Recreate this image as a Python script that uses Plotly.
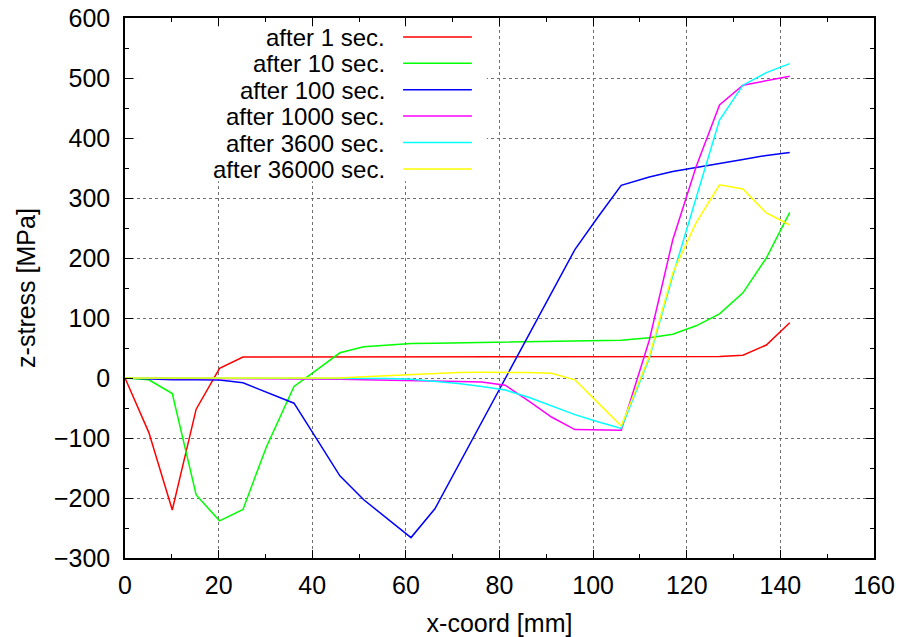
import plotly.graph_objects as go

# Node x-coordinates along the section [mm]
x_mm = [0, 5.1, 10.1, 15.2, 20.2, 25.2, 30.2, 36.1, 40.9, 45.9, 51, 56, 61.1, 66.2,
        71.2, 76.2, 81.2, 86.2, 91.1, 96.1, 101, 106, 112, 117, 122, 127, 132, 137, 142]

# z-stress [MPa] at each node for the different times
s_1 = [0, -91, -220, -52, 16, 35, 35, 35, 35, 35, 35, 35, 35, 35,
       35, 35, 35, 35, 35, 35, 35, 35, 35, 35, 35.5, 36, 38, 55, 92]
s_10 = [0, -3, -26, -195, -238, -219, -115, -14, 13, 42, 52, 55, 57.5, 58,
        58.5, 59, 59.5, 60, 60.5, 61, 62, 63, 67, 73, 87, 107, 142, 200, 276]
s_100 = [0, -2, -3, -3, -3.5, -8, -24, -42, -101, -163, -203, -234, -266, -218,
         -146, -74, -2, 71, 143, 214, 268, 321, 335, 344, 351, 357, 364, 371, 376]
s_1000 = [0, -1, -1, -1, -1, -1, -1, -1, -1, -2, -3, -4, -5, -5.5,
          -6, -6.5, -12, -38, -65, -86, -86, -87, 63, 230, 352, 455, 488, 496, 503]
s_3600 = [0, 0, 0, 0, 0, -0.5, -0.5, -0.5, -1, -1, -1, -1, -2, -5,
          -9, -14, -20, -32, -46, -61, -73, -84, 33, 170, 300, 430, 488, 509, 524]
s_36000 = [0, 0, 0, 0, 0, 0, 0, 0, 0, 0, 2, 4, 6, 8,
           9, 9.5, 9.5, 9, 8, -3, -41, -80, 36, 175, 259, 322, 315, 275, 255]

series_names = ["after 1 sec.", "after 10 sec.", "after 100 sec.",
                "after 1000 sec.", "after 3600 sec.", "after 36000 sec."]
series_values = [s_1, s_10, s_100, s_1000, s_3600, s_36000]
series_colors = ["#ff0000", "#00ff00", "#0000ff", "#ff00ff", "#00ffff", "#ffff00"]

FONT = "Liberation Sans, Arial, sans-serif"
FS = 25
KEY_FS = 24

fig = go.Figure()
for name, vals, col in zip(series_names, series_values, series_colors):
    fig.add_trace(go.Scatter(x=x_mm, y=vals, mode="lines", name=name,
                             line=dict(color=col, width=1.5), showlegend=False))

axis_common = dict(
    showline=True, linecolor="black", linewidth=1.5, mirror="allticks",
    ticks="inside", ticklen=8, tickwidth=1.2, tickcolor="black",
    showgrid=True, gridcolor="#707070", griddash="dot", gridwidth=1,
    zeroline=False, automargin=False,
    tickfont=dict(family=FONT, size=FS, color="black"),
)

fig.update_xaxes(range=[0, 160], dtick=20, tick0=0, ticklabelstandoff=4,
                 minor=dict(dtick=10, ticks="inside", ticklen=4, tickcolor="black", tickwidth=1.2, showgrid=False),
                 title=dict(text="x-coord [mm]", font=dict(family=FONT, size=FS, color="black"), standoff=21),
                 **axis_common)
fig.update_yaxes(range=[-300, 600], dtick=100, tick0=0, ticklabelstandoff=8,
                 minor=dict(dtick=50, ticks="inside", ticklen=4, tickcolor="black", tickwidth=1.2, showgrid=False),
                 title=dict(text="z-stress [MPa]", font=dict(family=FONT, size=FS, color="black"), standoff=11),
                 **axis_common)

# Key: white box over the grid, labels right-aligned with line samples to their right
key_box = dict(x0=2.6, x1=77.3, y0=328, y1=586)
fig.add_shape(type="rect", xref="x", yref="y", layer="above",
              fillcolor="white", line=dict(width=0), **key_box)
key_top = 568.5
key_step = 44.0
for i, (name, col) in enumerate(zip(series_names, series_colors)):
    yk = key_top - i * key_step
    fig.add_annotation(x=55.9, y=yk, xref="x", yref="y", text=name, showarrow=False,
                       xanchor="right", yanchor="middle", height=24, valign="middle",
                       font=dict(family=FONT, size=KEY_FS, color="black"))
    fig.add_shape(type="line", xref="x", yref="y", x0=59.4, x1=74.1, y0=yk, y1=yk,
                  line=dict(color=col, width=1.5), layer="above")

fig.update_layout(
    width=901, height=637,
    margin=dict(l=125, r=27, t=18, b=79),
    paper_bgcolor="white", plot_bgcolor="white",
    font=dict(family=FONT, size=FS, color="black"),
)

fig.write_html("out.html")
